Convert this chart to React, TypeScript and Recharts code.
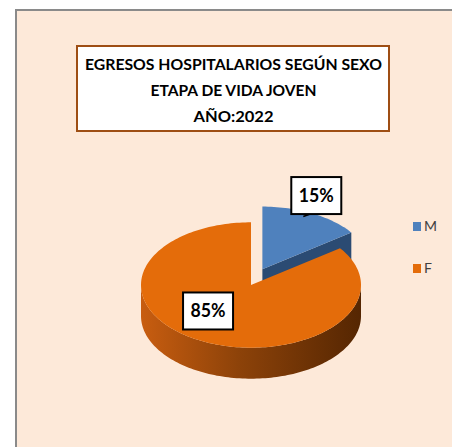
import React from 'react';
import { PieChart, Pie, Cell, Legend } from 'recharts';

// ---------- data ----------
const CATEGORIES = ['M', 'F'];
const PERCENTS = [15, 85];
const TITLE_LINES = ['EGRESOS HOSPITALARIOS SEGÚN SEXO', 'ETAPA DE VIDA JOVEN', 'AÑO:2022'];

const data = CATEGORIES.map((name, i) => ({ name, value: PERCENTS[i] }));

// ---------- styles ----------
const TOP_COLORS: Record<string, string> = { M: '#4F81BD', F: '#E46C0A' };
const FACE_COLORS: Record<string, string> = { M: '#2B4B73', F: '#7A3606' };
const EXPLODE: Record<string, number> = { M: 25, F: 0 };
const LABEL_FACTORS: Record<string, [number, number]> = { M: [1.08, 1.32], F: [0.86, 0.465] };
const LEADER: Record<string, boolean> = { M: true, F: false };
const TILT = 0.57;
const DEPTH = 31;
const BOX_W = 50;
const BOX_H = 37;
const FONT = 'Lato, "Open Sans", "Noto Sans", sans-serif';

const rad = (d: number) => (d * Math.PI) / 180;

function geometry(props: any) {
  const { cx, cy, outerRadius, startAngle, endAngle } = props;
  const key = props.payload?.name ?? props.name;
  const mid = (startAngle + endAngle) / 2;
  const ex = EXPLODE[key] || 0;
  const ox = cx + ex * Math.cos(rad(mid));
  const oy = cy - ex * TILT * Math.sin(rad(mid)) - (key === 'M' ? 3 : 0);
  return { key, mid, ox, oy, r: outerRadius, startAngle, endAngle };
}

function Slice3D(props: any) {
  const { key, ox, oy, r, startAngle, endAngle } = geometry(props);
  const P = (a: number, dz = 0): [number, number] => [
    ox + r * Math.cos(rad(a)),
    oy - TILT * r * Math.sin(rad(a)) + dz,
  ];
  const arc = (a1: number, a2: number, dz: number) => {
    const n = Math.max(2, Math.ceil(Math.abs(a2 - a1) / 1.5));
    const pts: [number, number][] = [];
    for (let i = 0; i <= n; i++) pts.push(P(a1 + ((a2 - a1) * i) / n, dz));
    return pts;
  };
  const toPath = (pts: [number, number][]) =>
    'M' + pts.map((p) => `${p[0].toFixed(2)},${p[1].toFixed(2)}`).join('L') + 'Z';

  const lo = Math.min(startAngle, endAngle);
  const hi = Math.max(startAngle, endAngle);

  const walls: string[] = [];
  for (let k = -2; k <= 2; k++) {
    const a = Math.max(lo, 180 + 360 * k);
    const b = Math.min(hi, 360 + 360 * k);
    if (b > a) walls.push(toPath([...arc(a, b, 0), ...arc(b, a, DEPTH)]));
  }
  const faces: string[] = [];
  const face = (a: number) =>
    toPath([[ox, oy], P(a), P(a, DEPTH), [ox, oy + DEPTH]]);
  if (Math.cos(rad(lo)) > 0.01) faces.push(face(lo));
  if (Math.cos(rad(hi)) < -0.01) faces.push(face(hi));

  const top = toPath([[ox, oy], ...arc(startAngle, endAngle, 0)]);
  const gid = `side-grad-${key}`;
  return (
    <g>
      <defs>
        <linearGradient id={gid} gradientUnits="userSpaceOnUse" x1={ox - r} y1={0} x2={ox + r} y2={0}>
          <stop offset="0" stopColor={key === 'F' ? '#C85D10' : '#3A5F8E'} />
          <stop offset="0.45" stopColor={key === 'F' ? '#8C4209' : '#2E4E78'} />
          <stop offset="1" stopColor={key === 'F' ? '#552602' : '#1F3856'} />
        </linearGradient>
      </defs>
      {faces.map((d, i) => (
        <path key={'f' + i} d={d} fill={FACE_COLORS[key]} />
      ))}
      {walls.map((d, i) => (
        <path key={'w' + i} d={d} fill={`url(#${gid})`} />
      ))}
      <path d={top} fill={TOP_COLORS[key]} />
    </g>
  );
}

function Label3D(props: any) {
  const { key, mid, ox, oy, r } = geometry(props);
  const [fa, fb] = LABEL_FACTORS[key] || [0.7, 0.7];
  const x = ox + Math.cos(rad(mid)) * r * fa;
  const y = oy - Math.sin(rad(mid)) * r * TILT * fb;
  const value = props.value ?? props.payload?.value;
  const edgeX = ox + Math.cos(rad(mid)) * r;
  const edgeY = oy - Math.sin(rad(mid)) * r * TILT;
  return (
    <g>
      {LEADER[key] && (
        <line x1={x - 6} y1={y + BOX_H / 2} x2={edgeX - 9} y2={edgeY + 3} stroke="#000" strokeWidth={1.5} />
      )}
      <rect
        x={x - BOX_W / 2}
        y={y - BOX_H / 2}
        width={BOX_W}
        height={BOX_H}
        fill="#FFFFFF"
        stroke="#000000"
        strokeWidth={2}
      />
      <text
        x={x}
        y={y + 6.5}
        textAnchor="middle"
        fontFamily={FONT}
        fontWeight={700}
        fontSize={18}
        fill="#000"
        textLength={35}
        lengthAdjust="spacingAndGlyphs"
      >
        {`${value}%`}
      </text>
    </g>
  );
}

function LegendContent(props: any) {
  const payload: any[] = props.payload || [];
  const items = CATEGORIES.map((c) => {
    const found = payload.find((p) => p.value === c);
    return { value: c, color: found?.color || TOP_COLORS[c] };
  });
  return (
    <div>
      {items.map((e, i) => (
        <div key={i} style={{ display: 'flex', alignItems: 'center', height: 42 }}>
          <span
            style={{
              display: 'inline-block',
              width: 8,
              height: 9,
              background: TOP_COLORS[e.value] || e.color,
              marginRight: 3,
            }}
          />
          <span style={{ fontFamily: FONT, fontSize: 14, color: '#404040', lineHeight: '14px' }}>
            {e.value}
          </span>
        </div>
      ))}
    </div>
  );
}

const TITLE_BASELINES = [69.5, 96, 122];
const TITLE_WIDTHS = [297, 166, 80];

export default function App() {
  return (
    <div style={{ position: 'absolute', left: 0, top: 0, width: 452, height: 447, background: '#FFFFFF', overflow: 'hidden' }}>
      <div
        style={{
          position: 'absolute',
          left: 15,
          top: 9,
          width: 437,
          height: 438,
          boxSizing: 'border-box',
          background: '#FDE9D9',
          borderLeft: '2px solid #8A8A8A',
          borderTop: '2px solid #8A8A8A',
        }}
      />
      <div style={{ position: 'absolute', left: 0, top: 0 }}>
        <PieChart width={452} height={447} margin={{ top: 0, right: 0, bottom: 0, left: 0 }}>
          <Pie
            data={data}
            dataKey="value"
            nameKey="name"
            cx={251}
            cy={285}
            outerRadius={110}
            startAngle={90}
            endAngle={-270}
            isAnimationActive={false}
            stroke="none"
            shape={Slice3D}
            label={Label3D}
            labelLine={false}
          >
            {data.map((d) => (
              <Cell key={d.name} fill={TOP_COLORS[d.name]} />
            ))}
          </Pie>
          <Legend
            layout="vertical"
            align="right"
            verticalAlign="middle"
            content={LegendContent}
            wrapperStyle={{ left: 413, top: 205, right: 'auto', width: 40, height: 84 }}
          />
        </PieChart>
      </div>
      <svg
        width={452}
        height={447}
        style={{ position: 'absolute', left: 0, top: 0, pointerEvents: 'none' }}
      >
        <rect x={77} y={46} width={312} height={85} fill="#FFFFFF" stroke="#9E4E14" strokeWidth={2} />
        {TITLE_LINES.map((t, i) => (
          <text
            key={i}
            x={233.5}
            y={TITLE_BASELINES[i]}
            textAnchor="middle"
            fontFamily={FONT}
            fontWeight={700}
            fontSize={15.5}
            fill="#000"
            textLength={TITLE_WIDTHS[i]}
            lengthAdjust="spacingAndGlyphs"
          >
            {t}
          </text>
        ))}
      </svg>
    </div>
  );
}
